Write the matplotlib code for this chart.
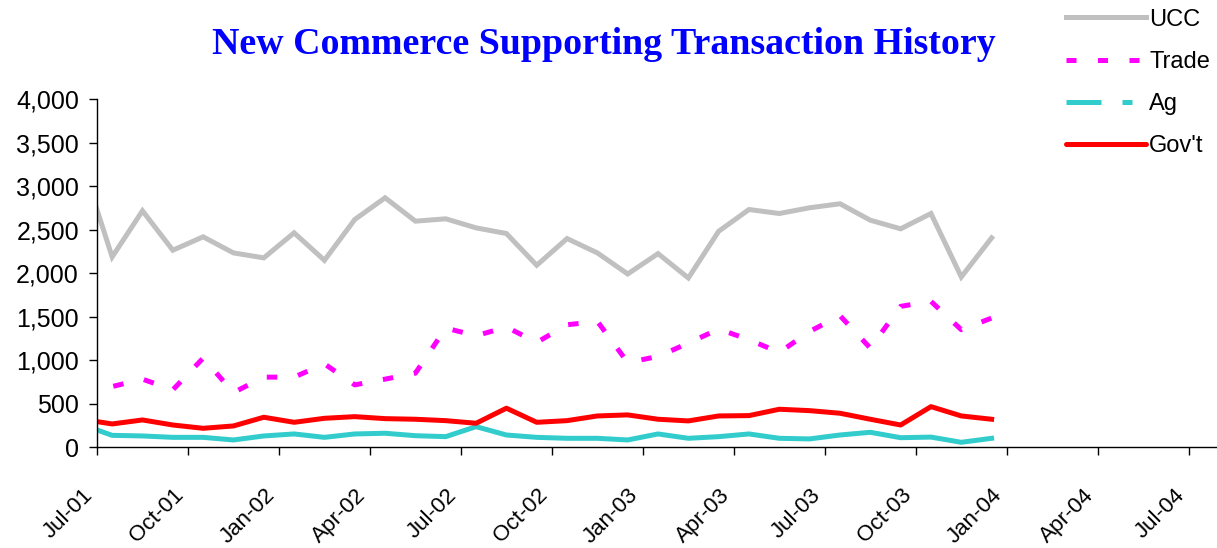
import numpy as np
import matplotlib
matplotlib.use("Agg")
import matplotlib.pyplot as plt
from matplotlib.lines import Line2D
from matplotlib.ticker import FuncFormatter

plt.rcParams['font.family'] = ['Liberation Sans', 'DejaVu Sans']

# months from Jun-01 to Dec-03 (Jun-01 sits left of the axis and is clipped)
months = ['Jun-01', 'Jul-01', 'Aug-01', 'Sep-01', 'Oct-01', 'Nov-01', 'Dec-01',
          'Jan-02', 'Feb-02', 'Mar-02', 'Apr-02', 'May-02', 'Jun-02',
          'Jul-02', 'Aug-02', 'Sep-02', 'Oct-02', 'Nov-02', 'Dec-02',
          'Jan-03', 'Feb-03', 'Mar-03', 'Apr-03', 'May-03', 'Jun-03',
          'Jul-03', 'Aug-03', 'Sep-03', 'Oct-03', 'Nov-03', 'Dec-03']

ucc = [3270, 2185, 2715, 2262, 2416, 2231, 2174, 2462, 2146, 2615, 2865,
       2596, 2623, 2519, 2454, 2089, 2396, 2231, 1989, 2223, 1943,
       2480, 2730, 2684, 2750, 2796, 2607, 2508, 2684, 1955, 2404]
trade = [700, 695, 780, 657, 1022, 626, 803, 803, 956, 714, 780,
         849, 1367, 1279, 1379, 1202, 1405, 1444, 971, 1041, 1194,
         1356, 1233, 1087, 1329, 1509, 1137, 1617, 1674, 1348, 1482]
ag = [258, 134, 127, 111, 111, 81, 127, 150, 111, 150, 158,
      130, 119, 234, 138, 111, 100, 100, 81, 150, 100,
      119, 150, 100, 93, 138, 169, 107, 114, 54, 100]
govt = [319, 265, 311, 253, 215, 242, 342, 284, 330, 349, 326,
        319, 303, 273, 446, 284, 303, 357, 369, 319, 300,
        357, 361, 434, 418, 388, 319, 253, 464, 357, 319]

tick_labels = ['Jul-01', 'Oct-01', 'Jan-02', 'Apr-02', 'Jul-02', 'Oct-02', 'Jan-03',
               'Apr-03', 'Jul-03', 'Oct-03', 'Jan-04', 'Apr-04', 'Jul-04']

# Excel-like month slots: each point sits in the middle of its month
x = np.arange(len(months)) - 1 + 0.5

fig = plt.figure(figsize=(12.17, 5.48), dpi=100)
ax = fig.add_axes([0.0797, 0.1843, 0.922, 0.635])

ax.plot(x, ucc, color='#C0C0C0', lw=3.6, solid_joinstyle='miter')
ax.plot(x, trade, color='#FF00FF', lw=3.6, dashes=(2.1, 4.2))
ax.plot(x, ag, color='#33CCCC', lw=3.6)
ax.plot(x, govt, color='#FF0000', lw=3.6)

ax.set_xlim(0, 37)
ax.set_ylim(0, 4000)
ax.set_yticks(np.arange(0, 4001, 500))
ax.yaxis.set_major_formatter(FuncFormatter(lambda v, p: f'{int(v):,}'))
ax.set_xticks(np.arange(0, 37, 3))
ax.set_xticklabels(tick_labels, rotation=45, ha='right', va='top')

for s in ['top', 'right']:
    ax.spines[s].set_visible(False)
for s in ['left', 'bottom']:
    ax.spines[s].set_linewidth(1.0)
ax.tick_params(axis='both', direction='out', length=6, width=1.0)
ax.tick_params(axis='y', pad=7, labelsize=18)
ax.tick_params(axis='x', pad=21, labelsize=16)

fig.text(0.4963, 1 - 54.5 / 548, 'New Commerce Supporting Transaction History',
         ha='center', va='baseline', fontsize=27.3, fontweight='bold',
         family='Liberation Serif', color='#0000FF')

handles = [
    Line2D([], [], color='#C0C0C0', lw=3.6),
    Line2D([], [], color='#FF00FF', lw=3.6, dashes=(2, 4.3)),
    Line2D([], [], color='#33CCCC', lw=3.6, dashes=(7, 4.2, 2, 4.2)),
    Line2D([], [], color='#FF0000', lw=3.6, solid_capstyle='round'),
]
fig.legend(handles, ['UCC', 'Trade', 'Ag', "Gov't"], loc='upper right',
           bbox_to_anchor=(1.0, 0.997), frameon=False, fontsize=17,
           handlelength=3.4, handletextpad=0.13, labelspacing=0.85,
           borderpad=0.1, borderaxespad=0.2)

fig.savefig('out.png', dpi=100)
